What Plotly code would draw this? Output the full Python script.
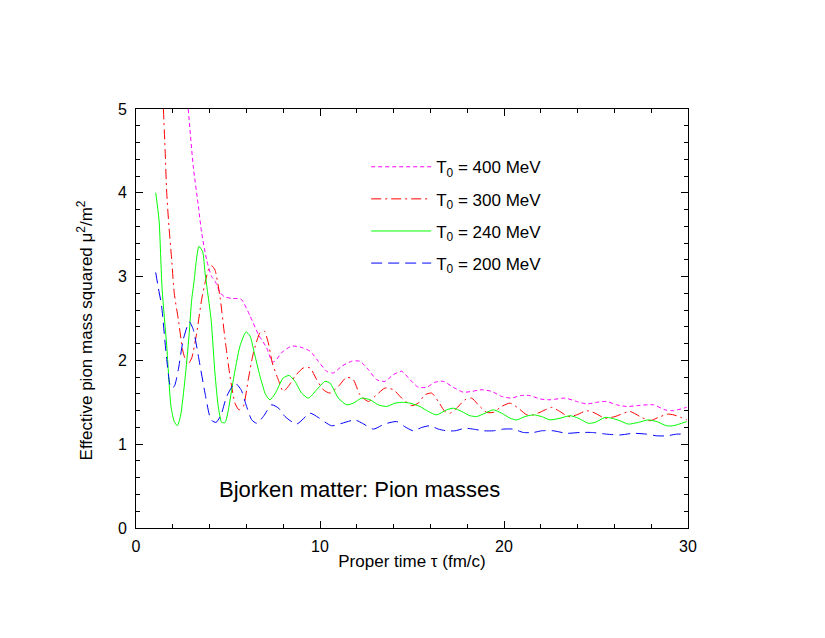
import plotly.graph_objects as go

# T0 = 200 MeV
x_200 = [1.07, 1.21, 1.39, 1.67, 1.90, 2.08, 2.30, 2.57, 2.90, 3.11, 3.39, 3.75, 4.08, 4.35, 4.62,
         4.93, 5.38, 5.71, 6.01, 6.29, 6.56, 6.92, 7.37, 7.75, 8.10, 8.73, 9.46, 9.90, 10.63, 11.2,
         11.9, 12.3, 12.9, 13.5, 14.17, 14.6, 15.07, 15.53, 15.98, 16.43, 16.88, 17.34, 17.88, 18.33,
         18.88, 19.42, 19.96, 20.51, 21.05, 21.6, 22.05, 22.68, 23.41, 24.13, 24.77, 25.58, 26.3,
         27.03, 27.75, 28.3, 28.84, 29.38, 29.93]
y_200 = [3.05, 2.87, 2.65, 2.01, 1.67, 1.69, 1.89, 2.25, 2.46, 2.37, 2.05, 1.61, 1.29, 1.26, 1.35,
         1.57, 1.73, 1.65, 1.45, 1.29, 1.25, 1.33, 1.47, 1.43, 1.33, 1.24, 1.37, 1.32, 1.22, 1.25,
         1.29, 1.25, 1.18, 1.24, 1.27, 1.21, 1.16, 1.20, 1.22, 1.18, 1.16, 1.16, 1.19, 1.18,
         1.16, 1.16, 1.18, 1.18, 1.14, 1.14, 1.16, 1.16, 1.13, 1.14, 1.14, 1.12, 1.11,
         1.13, 1.12, 1.10, 1.10, 1.12, 1.12]

# T0 = 240 MeV
x_240 = [1.07, 1.25, 1.42, 1.67, 1.90, 2.08, 2.25, 2.43, 2.66, 2.88, 3.03, 3.17, 3.26, 3.42, 3.62,
         3.75, 3.87, 4.08, 4.29, 4.47, 4.66, 4.84, 5.02, 5.29, 5.65, 5.98, 6.20, 6.43, 6.74, 7.05,
         7.28, 7.55, 8.0, 8.33, 8.64, 9.0, 9.37, 9.82, 10.27, 10.54, 11.0, 11.45, 11.81, 12.27,
         12.72, 13.17, 13.62, 14.08, 14.53, 14.89, 15.43, 15.89, 16.34, 16.88, 17.25, 17.7, 18.15,
         18.52, 18.97, 19.42, 19.87, 20.33, 20.69, 21.14, 21.6, 22.05, 22.5, 23.04, 23.59, 24.04,
         24.58, 24.95, 25.49, 25.85, 26.3, 26.76, 27.3, 27.84, 28.3, 28.84, 29.2, 29.93]
y_240 = [4.00, 3.68, 2.85, 2.17, 1.45, 1.27, 1.22, 1.35, 1.77, 2.29, 2.73, 2.97, 3.16, 3.36, 3.30,
         3.05, 2.85, 2.49, 1.85, 1.45, 1.26, 1.26, 1.41, 1.77, 2.17, 2.34, 2.29, 2.09, 1.81, 1.59,
         1.53, 1.60, 1.79, 1.82, 1.75, 1.61, 1.55, 1.65, 1.75, 1.73, 1.55, 1.47, 1.49, 1.55,
         1.53, 1.47, 1.45, 1.49, 1.50, 1.49, 1.45, 1.39, 1.35, 1.41, 1.43, 1.39, 1.34,
         1.33, 1.37, 1.41, 1.37, 1.31, 1.29, 1.33, 1.35, 1.33, 1.29, 1.31, 1.34, 1.31,
         1.25, 1.26, 1.32, 1.31, 1.28, 1.24, 1.26, 1.29, 1.27, 1.22, 1.22, 1.27]

# T0 = 300 MeV
x_300 = [1.49, 1.58, 1.67, 1.79, 1.94, 2.08, 2.30, 2.57, 2.81, 3.03, 3.30, 3.57, 3.80, 3.93, 4.11,
         4.29, 4.57, 4.84, 5.11, 5.38, 5.60, 5.83, 6.10, 6.38, 6.74, 6.97, 7.19, 7.41, 7.73, 8.0,
         8.28, 8.64, 9.09, 9.46, 9.82, 10.18, 10.54, 11.0, 11.45, 11.81, 12.17, 12.63, 13.08, 13.53,
         13.99, 14.44, 14.98, 15.34, 15.71, 16.07, 16.43, 16.79, 17.07, 17.43, 17.88, 18.24, 18.6,
         19.06, 19.42, 19.87, 20.33, 20.78, 21.24, 21.6, 22.05, 22.59, 23.04, 23.5, 23.95, 24.49,
         24.95, 25.49, 26.03, 26.85, 27.39, 27.93, 28.39, 28.93, 29.38, 29.93]
y_300 = [5.00, 4.52, 4.00, 3.60, 3.20, 2.80, 2.49, 2.09, 1.95, 2.03, 2.33, 2.73, 2.97, 3.08, 3.13,
         3.08, 2.75, 2.25, 1.81, 1.49, 1.41, 1.45, 1.77, 2.09, 2.33, 2.35, 2.21, 1.97, 1.77, 1.63,
         1.69, 1.81, 1.91, 1.91, 1.77, 1.65, 1.61, 1.69, 1.80, 1.77, 1.59, 1.51, 1.59, 1.67,
         1.65, 1.55, 1.46, 1.49, 1.59, 1.61, 1.51, 1.39, 1.37, 1.43, 1.53, 1.55, 1.47,
         1.38, 1.38, 1.45, 1.49, 1.43, 1.35, 1.35, 1.39, 1.44, 1.39, 1.33, 1.35, 1.40,
         1.37, 1.31, 1.33, 1.39, 1.33, 1.28, 1.32, 1.36, 1.34, 1.29]

# T0 = 400 MeV
x_400 = [2.84, 3.11, 3.39, 3.57, 3.84, 4.11, 4.29, 4.57, 4.80, 5.20, 5.71, 6.20, 6.65, 7.10, 7.41,
         7.55, 8.0, 8.46, 8.91, 9.46, 9.91, 10.36, 10.72, 11.18, 11.72, 12.17, 12.63, 13.08, 13.53,
         13.99, 14.44, 14.89, 15.34, 15.8, 16.25, 16.7, 17.24, 17.79, 18.24, 18.79, 19.33, 19.87,
         20.42, 20.87, 21.41, 21.96, 22.5, 23.32, 23.95, 24.49, 25.04, 25.58, 26.12, 26.67, 27.21,
         28.12, 28.75, 29.2, 29.93]
y_400 = [5.00, 4.32, 3.84, 3.52, 3.20, 3.00, 2.95, 2.81, 2.76, 2.74, 2.73, 2.53, 2.31, 2.15, 1.98,
         1.99, 2.11, 2.17, 2.16, 2.11, 1.99, 1.87, 1.85, 1.93, 1.99, 1.99, 1.89, 1.77, 1.75,
         1.83, 1.87, 1.77, 1.68, 1.68, 1.74, 1.75, 1.68, 1.62, 1.63, 1.65, 1.63, 1.57,
         1.55, 1.58, 1.58, 1.54, 1.53, 1.55, 1.51, 1.48, 1.50, 1.51, 1.47, 1.45, 1.46,
         1.47, 1.41, 1.40, 1.44]

series = [
    ("T<sub>0</sub> = 400 MeV", x_400, y_400, "#ff00ff", "4px,3px"),
    ("T<sub>0</sub> = 300 MeV", x_300, y_300, "#ff0000", "10px,4px,2px,4px"),
    ("T<sub>0</sub> = 240 MeV", x_240, y_240, "#00ff00", "solid"),
    ("T<sub>0</sub> = 200 MeV", x_200, y_200, "#0000ff", "11px,6px"),
]

font = "Liberation Sans, Arial, sans-serif"

fig = go.Figure()
for i, (name, xs, ys, col, dash) in enumerate(series):
    fig.add_trace(go.Scatter(x=xs, y=ys, mode="lines", name=name, legendgroup=str(i),
                             line=dict(color=col, width=1, dash=dash, shape="spline", smoothing=0.6)))

axis_common = dict(showgrid=False, zeroline=False, showline=True, linecolor="black", linewidth=1,
                   mirror="ticks", ticks="inside", ticklen=7, tickcolor="black",
                   tickfont=dict(size=16, color="black"))

fig.update_xaxes(range=[0, 30], dtick=10, tick0=0, ticklabelstandoff=4,
                 minor=dict(dtick=2, ticks="inside", ticklen=4, tickcolor="black"),
                 title=dict(text="Proper time τ (fm/c)", font=dict(size=17, color="black"), standoff=0),
                 **axis_common)
fig.update_yaxes(range=[0, 5], dtick=1, tick0=0, ticklabelstandoff=5,
                 minor=dict(dtick=0.2, ticks="inside", ticklen=4, tickcolor="black"),
                 **axis_common)

fig.add_annotation(text="Effective pion mass squared μ<sup>2</sup>/m<sup>2</sup>",
                   xref="paper", yref="paper", x=-0.092, y=0.472, xanchor="center", yanchor="middle",
                   textangle=-90, showarrow=False, font=dict(size=17, color="black"))
fig.add_annotation(text="Bjorken matter: Pion masses", xref="paper", yref="paper",
                   x=0.404, y=0.092, xanchor="center", yanchor="middle",
                   showarrow=False, font=dict(size=22, color="black"))

# page body has an 8px margin, so shift the plot area up/left by that much
fig.update_layout(
    width=825, height=638,
    margin=dict(l=128, r=145, t=101, b=118),
    paper_bgcolor="white", plot_bgcolor="white",
    font=dict(family=font, color="black"),
    legend=dict(x=0.417, y=0.904, xanchor="left", yanchor="top", bgcolor="rgba(0,0,0,0)",
                font=dict(size=17), tracegroupgap=7, itemwidth=60),
)

fig.write_html("out.html")
